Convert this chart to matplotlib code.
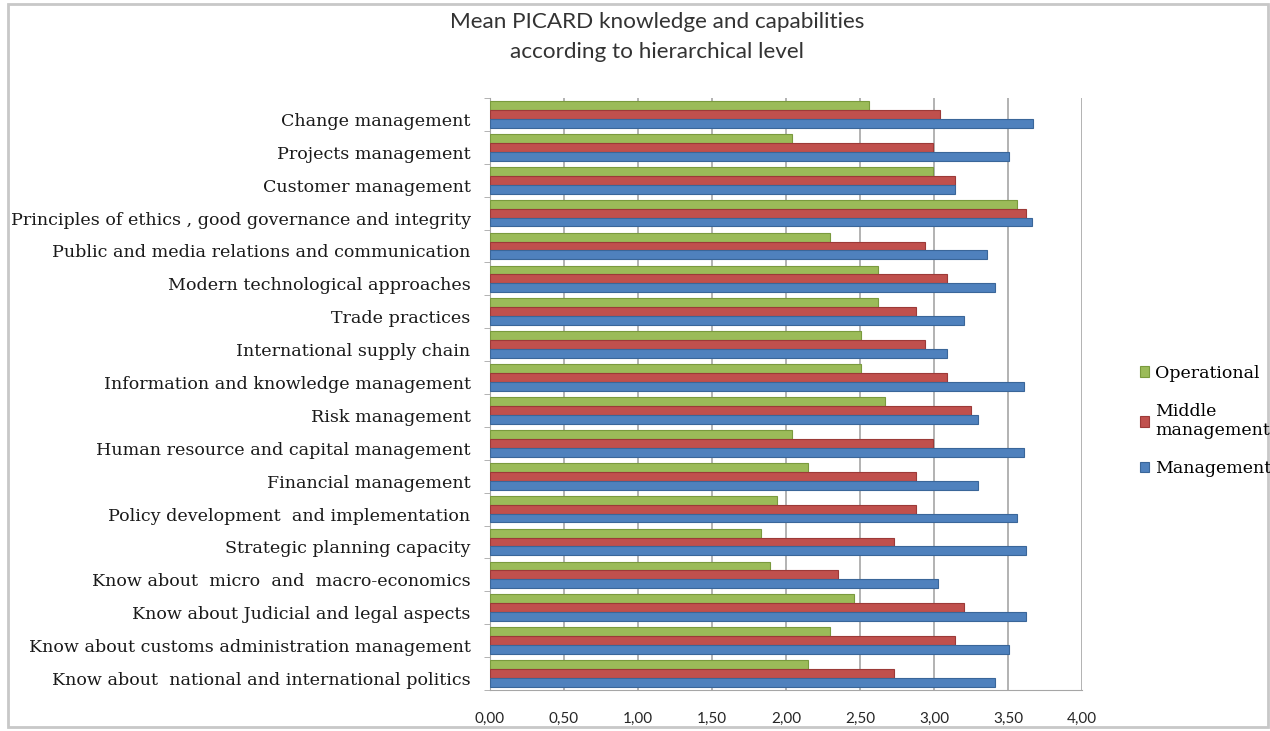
import numpy as np
import matplotlib.pyplot as plt
from matplotlib.patches import Rectangle
from matplotlib.ticker import FuncFormatter

# Data (top category first)
categories = [
    "Change management",
    "Projects management",
    "Customer management",
    "Principles of ethics , good governance and integrity",
    "Public and media relations and communication",
    "Modern technological approaches",
    "Trade practices",
    "International supply chain",
    "Information and knowledge management",
    "Risk management",
    "Human resource and capital management",
    "Financial management",
    "Policy development  and implementation",
    "Strategic planning capacity",
    "Know about  micro  and  macro-economics",
    "Know about Judicial and legal aspects",
    "Know about customs administration management",
    "Know about  national and international politics",
]
operational = [2.56, 2.04, 2.99, 3.56, 2.30, 2.62, 2.62, 2.51, 2.51, 2.67,
               2.04, 2.15, 1.94, 1.83, 1.89, 2.46, 2.30, 2.15]
middle = [3.04, 2.99, 3.14, 3.62, 2.94, 3.09, 2.88, 2.94, 3.09, 3.25,
          2.99, 2.88, 2.88, 2.73, 2.35, 3.20, 3.14, 2.73]
management = [3.67, 3.51, 3.14, 3.66, 3.36, 3.41, 3.20, 3.09, 3.61, 3.30,
              3.61, 3.30, 3.56, 3.62, 3.03, 3.62, 3.51, 3.41]
series_names = ["Operational", "Middle\nmanagement", "Management"]
xticks = [0, 0.5, 1.0, 1.5, 2.0, 2.5, 3.0, 3.5, 4.0]

colors = ["#9BBB59", "#C0504D", "#4F81BD"]
edges = ["#7A9A3E", "#9C3A38", "#3A6699"]

fig = plt.figure(figsize=(12.7, 7.31), dpi=100)
ax = fig.add_axes([490 / 1270, 1 - 690 / 731, 592 / 1270, 592 / 731])

y = np.arange(len(categories))
h = 0.27
for k, (vals, name) in enumerate(zip([operational, middle, management], series_names)):
    ax.barh(y + (k - 1) * h, vals, height=h, color=colors[k], edgecolor=edges[k],
            linewidth=0.8, label=name, zorder=3)

ax.set_xlim(0, 4)
ax.set_ylim(len(categories) - 0.6, -0.45)
ax.set_xticks(xticks)
ax.xaxis.set_major_formatter(FuncFormatter(lambda v, p: f"{v:.2f}".replace(".", ",")))
ax.grid(axis="x", color="#A6A6A6", linewidth=1.2, zorder=0)

ax.set_yticks(y + 0.15)
ax.set_yticklabels(categories, family="DejaVu Serif", fontsize=12.6, color="#1a1a1a")
ax.set_yticks(np.arange(-0.5, len(categories), 1), minor=True)
ax.tick_params(axis="y", which="major", length=0, pad=14)
ax.tick_params(axis="y", which="minor", length=4, color="#A6A6A6", direction="out")
ax.tick_params(axis="x", length=0, pad=16, labelsize=11, labelcolor="#262626")
for lab in ax.get_xticklabels():
    lab.set_family("Lato")

for s in ["top", "right"]:
    ax.spines[s].set_visible(False)
ax.spines["left"].set_color("#A6A6A6")
ax.spines["bottom"].set_color("#A6A6A6")

fig.text(657 / 1270, 1 - 37 / 731,
         "Mean PICARD knowledge and capabilities\naccording to hierarchical level",
         ha="center", va="center", fontsize=16.2, family="Lato", color="#333333",
         linespacing=1.65)

handles, labels = ax.get_legend_handles_labels()
fig.legend(handles, labels, loc="center left", bbox_to_anchor=(1124 / 1270, 1 - 421 / 731),
           frameon=False, handlelength=0.55, handleheight=0.55, handletextpad=0.35,
           labelspacing=1.2, prop={"family": "DejaVu Serif", "size": 12.5})

fig.patches.append(Rectangle((8 / 1270, 4 / 731), 1 - 10 / 1270, 1 - 8 / 731,
                             transform=fig.transFigure, fill=False,
                             edgecolor="#C8C8C8", linewidth=2))

fig.savefig("out.png", dpi=100)
